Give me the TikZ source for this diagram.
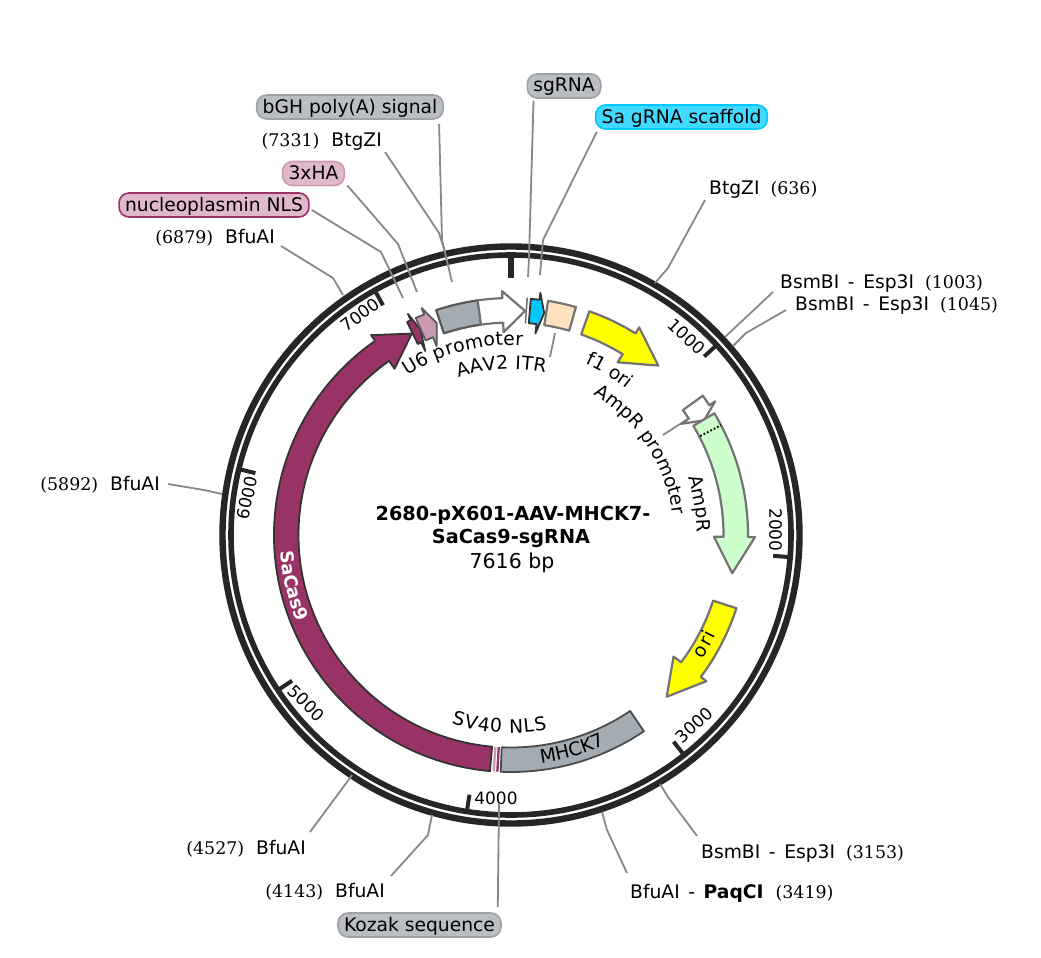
\documentclass[tikz,border=0pt]{standalone}
\usepackage{fontspec}
\setmainfont{DejaVu Sans}
\newfontfamily\posfont{DejaVu Serif}
\usetikzlibrary{positioning,decorations.text}
\definecolor{ringcolor}{RGB}{38,38,38}
\definecolor{leadcolor}{RGB}{136,136,136}
\definecolor{maroon}{RGB}{153,51,102}
\definecolor{hapink}{RGB}{204,153,178}
\definecolor{greyfeat}{RGB}{163,171,179}
\definecolor{oriyellow}{RGB}{255,255,0}
\definecolor{ampgreen}{RGB}{204,255,204}
\definecolor{itrpeach}{RGB}{255,224,191}
\definecolor{scafblue}{RGB}{0,200,255}
\definecolor{pillgrey}{RGB}{186,190,195}
\definecolor{pillcyan}{RGB}{64,217,255}
\definecolor{pillpink}{RGB}{224,184,204}
\newcommand{\labelfont}{\fontsize{18.7}{22}\selectfont}
\newcommand{\pos}[1]{{\posfont\fontsize{17.4}{20}\selectfont(#1)}}
\newcommand{\dashsep}{\hspace{8.6pt}-\hspace{8.6pt}}
\newcommand{\bandin}{212.5}
\newcommand{\bandout}{237}
% feature arrow: tail, head base and tip given as clock angles
\newcommand{\featarrow}[4][]{%
  \path[#1] ({#2-90}:\bandin) arc[start angle={#2-90}, end angle={#3-90}, radius=\bandin]
    -- ({#3-90}:203) -- ({#4-90}:224.5) -- ({#3-90}:244) -- ({#3-90}:\bandout)
    arc[start angle={#3-90}, end angle={#2-90}, radius=\bandout] -- cycle;}
\newcommand{\featbox}[3][]{%
  \path[#1] ({#2-90}:\bandin) arc[start angle={#2-90}, end angle={#3-90}, radius=\bandin]
    -- ({#3-90}:\bandout) arc[start angle={#3-90}, end angle={#2-90}, radius=\bandout] -- cycle;}
% text along a circle: radius, from, to (clock angles)
\newcommand{\arctext}[4]{%
  \path[decorate, decoration={text along path, text align={fit to path}, text={#4}}]
    ({#2-90}:#1) arc[start angle={#2-90}, end angle={#3-90}, radius=#1];}
\newcommand{\arctextleft}[4]{%
  \path[decorate, decoration={text along path, text={#4}}]
    ({#2-90}:#1) arc[start angle={#2-90}, end angle={#3-90}, radius=#1];}

\begin{document}
\begin{tikzpicture}[x=1pt, y=-1pt,
    leader/.style={leadcolor, line width=1.8pt},
    tick/.style={ringcolor, line width=4pt},
    ticklbl/.style={font=\fontsize{17}{20}\selectfont, inner sep=0pt},
    enz/.style={font=\labelfont, inner sep=0pt, anchor=base west},
    enzr/.style={font=\labelfont, inner sep=0pt, anchor=base east},
    pill/.style={font=\labelfont, rounded corners=10pt, line width=1.6pt, minimum height=24pt,
      inner xsep=6pt, inner ysep=0pt, text height=15pt, text depth=3pt},
    feat/.style={line width=2.2pt, line join=round, draw=black!55},
    darkfeat/.style={line width=1.8pt, line join=round, draw=black!80}]
    \useasboundingbox (0,0) rectangle (1041,958);
    \fill[white] (0,0) rectangle (1041,958);
    % --- Backbone rings and ticks ---
    \draw[ringcolor, line width=6.4pt] (511,535) circle[radius=288.5];
    \draw[ringcolor, line width=5.6pt] (511,535) circle[radius=280];
    \begin{scope}[shift={(511,535)}]
    \draw[ringcolor, line width=6pt] (-90:257) -- (-90:280);
    \foreach \ang in {47.27,94.54,141.81,189.08,236.35,283.61,330.88}
      \draw[tick] ({\ang-90}:263) -- ({\ang-90}:280);
    % --- Features, clockwise from the top ---
    \featarrow[feat, fill=white]{54}{56.8}{59.3}
    \featbox[feat, fill=greyfeat, draw=black!65]{-18.4}{-8.1}
    \featarrow[feat, fill=white]{-8.1}{-2.1}{3.6}
    \draw[black!55, line width=1.6pt] (3.9-90:212) -- (3.9-90:238);
    \featarrow[darkfeat, fill=scafblue]{4.8}{6.9}{8.5}
    \featbox[feat, fill=itrpeach]{9}{15.9}
    \featarrow[feat, fill=oriyellow]{19.3}{31.7}{41}
    \featarrow[feat, fill=ampgreen]{59.1}{90.5}{99.8}
    \draw[black, line width=1.8pt, dotted] (62.4-90:213.5) -- (62.4-90:237);
    \featarrow[feat, fill=oriyellow]{108}{126.8}{136.1}
    \featbox[darkfeat, draw=black!70, fill=greyfeat]{145.9}{182.5}
    \featbox[fill=maroon]{183.0}{183.6}
    \featbox[fill=hapink]{183.9}{184.5}
    \featarrow[darkfeat, fill=maroon]{185.1}{325}{333.8}
    \featarrow[darkfeat, fill=maroon]{334}{335}{336.2}
    \featarrow[darkfeat, draw=black!65, fill=hapink]{336.3}{338.5}{340.7}
    % --- Feature names ---
    \arctext{190}{-33}{3.6}{|\labelfont|U6 promoter}
    \arctext{166}{-18.5}{12}{|\labelfont|AAV2 ITR}
    \arctext{186.5}{23.5}{38.5}{|\labelfont|f1 ori}
    \arctextleft{163}{30.5}{95}{|\labelfont|AmpR promoter}
    \arctext{186}{72}{88}{|\labelfont|AmpR}
    \arctext{228}{123}{116}{|\labelfont|ori}
    \arctext{230}{172.5}{155.8}{|\labelfont|MHCK7}
    \arctext{198}{197.5}{169.5}{|\labelfont|SV40 NLS}
    \arctext{231}{266}{248.5}{|\fontsize{18}{20}\selectfont\bfseries\color{white}|SaCas9}
    \end{scope}
    % --- Tick labels ---
    \node[ticklbl, rotate=-43] (tickA) at (686.5,336.5) {1000};
    \node[ticklbl, rotate=-90] (tickB) at (775.5,530) {2000};
    \node[ticklbl, rotate=43] (tickC) at (694,725) {3000};
    \node[ticklbl] (tickD) at (496,798) {4000};
    \node[ticklbl, rotate=-45] (tickE) at (306.5,703) {5000};
    \node[ticklbl, rotate=78] (tickF) at (247,498) {6000};
    \node[ticklbl, rotate=37] (tickG) at (360,315) {7000};
    % --- Title ---
    \node[font=\fontsize{19.3}{22}\selectfont\bfseries, inner sep=0pt, anchor=base] (titleA) at (513,520) {2680-pX601-AAV-MHCK7-};
    \node[font=\fontsize{19.3}{22}\selectfont\bfseries, inner sep=0pt, anchor=base] (titleB) at (511,543) {SaCas9-sgRNA};
    \node[font=\fontsize{20.5}{24}\selectfont, inner sep=0pt, anchor=base] (titleC) at (512,568) {7616 bp};
    % --- Enzyme sites ---
    \node[enzr] (btgA) at (382,146) {\pos{7331}\hspace{12pt}BtgZI};
    \node[enzr] (bfuA) at (275,243) {\pos{6879}\hspace{12pt}BfuAI};
    \node[enz] (btgB) at (709,194) {BtgZI\hspace{11pt}\pos{636}};
    \node[enz] (bsmA) at (780,288) {BsmBI\dashsep Esp3I\hspace{11pt}\pos{1003}};
    \node[enz] (bsmB) at (795,310) {BsmBI\dashsep Esp3I\hspace{11pt}\pos{1045}};
    \node[enzr] (bfuB) at (160,490) {\pos{5892}\hspace{12pt}BfuAI};
    \node[enzr] (bfuC) at (306,854) {\pos{4527}\hspace{12pt}BfuAI};
    \node[enzr] (bfuD) at (385,897) {\pos{4143}\hspace{12pt}BfuAI};
    \node[enz] (bsmC) at (701,858) {BsmBI\dashsep Esp3I\hspace{11pt}\pos{3153}};
    \node[enz] (paq) at (630,898) {BfuAI\dashsep\textbf{PaqCI}\hspace{12pt}\pos{3419}};
    % --- Feature pills ---
    \node[pill, fill=pillgrey, draw=pillgrey!85!black] (bgh) at (350,107) {bGH poly(A) signal};
    \node[pill, fill=pillgrey, draw=pillgrey!85!black] (sgrna) at (564,86) {sgRNA};
    \node[pill, fill=pillcyan, draw=scafblue] (scaf) at (681.5,117) {Sa gRNA scaffold};
    \node[pill, fill=pillpink, draw=hapink] (ha) at (313.5,173.5) {3xHA};
    \node[pill, fill=pillpink, draw=maroon] (nls) at (214,205) {nucleoplasmin NLS};
    \node[pill, fill=pillgrey, draw=pillgrey!85!black] (kozak) at (419.5,925) {Kozak sequence};
    % --- Leader lines ---
    \coordinate (endbtgA) at (445,252);
    \coordinate (endbfuA) at (343,295);
    \coordinate (endnls) at (403,298);
    \coordinate (endha) at (417,292);
    \coordinate (endbgh) at (452,282);
    \coordinate (endsg) at (528,277);
    \coordinate (endscaf) at (540,275);
    \coordinate (endbtgB) at (655,283);
    \coordinate (endbsmA) at (725,337);
    \coordinate (endbsmB) at (733,346);
    \coordinate (endbfuB) at (222,494);
    \coordinate (endbfuC) at (352,775);
    \coordinate (endbfuD) at (432,815);
    \coordinate (endkozak) at (499,803);
    \coordinate (endpaq) at (602,812);
    \coordinate (endbsmC) at (660,784);
    \coordinate (enditr) at (555,333);
    \coordinate (enditrb) at (550,357);
    \coordinate (endpro) at (680,424);
    \coordinate (endprob) at (663,435);
    \draw[leader] ([shift={(3,6)}]btgA.base east) -- (439,233) -- (endbtgA);
    \draw[leader] ([shift={(6,3)}]bfuA.base east) -- (333,278) -- (endbfuA);
    \draw[leader] ([shift={(2,5)}]nls.east) -- (381,252) -- (endnls);
    \draw[leader] ([shift={(2,-1)}]ha.south east) -- (398,244) -- (endha);
    \draw[leader] ([shift={(-5,4)}]bgh.south east) -- (442,240) -- (endbgh);
    \draw[leader] ([shift={(7,2)}]sgrna.south west) -- (529,258) -- (endsg);
    \draw[leader] ([shift={(2,2)}]scaf.south west) -- (543,240) -- (endscaf);
    \draw[leader] ([shift={(-4,6)}]btgB.base west) -- (668,268) -- (endbtgB);
    \draw[leader] ([shift={(-7,4)}]bsmA.base west) -- (endbsmA);
    \draw[leader] ([shift={(-9,0)}]bsmB.base west) -- (746,333) -- (endbsmB);
    \draw[leader] ([shift={(8,-6)}]bfuB.base east) -- (204,490) -- (endbfuB);
    \draw[leader] ([shift={(4,-22)}]bfuC.base east) -- (347,782) -- (endbfuC);
    \draw[leader] ([shift={(6,-21)}]bfuD.base east) -- (428,835) -- (endbfuD);
    \draw[leader] ([shift={(-4,-5)}]kozak.north east) -- (endkozak);
    \draw[leader] ([shift={(-3,-25)}]paq.base west) -- (607,830) -- (endpaq);
    \draw[leader] ([shift={(-4,-22)}]bsmC.base west) -- (668,797) -- (endbsmC);
    \draw[leader] (enditrb) -- (enditr);
    \draw[leader] (endprob) -- (endpro);
  \end{tikzpicture}
\end{document}
